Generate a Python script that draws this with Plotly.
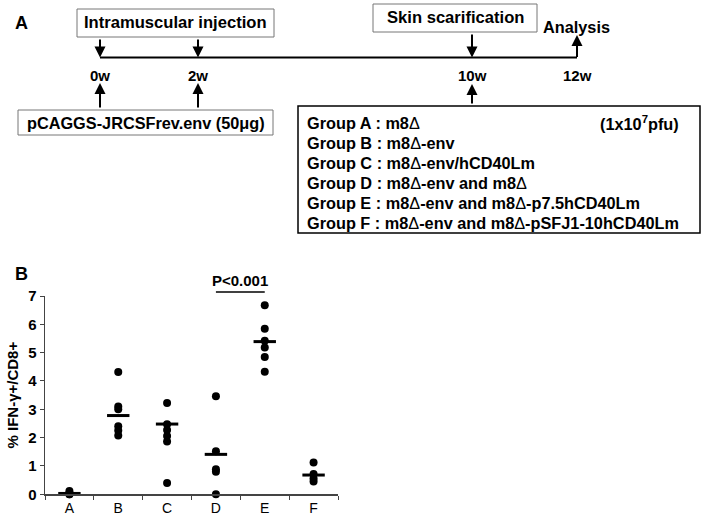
import plotly.graph_objects as go

W, H = 705, 526

# ---------------- data (panel B) ----------------
categories = ["A", "B", "C", "D", "E", "F"]
values_A = [0.12, 0.05, 0.02, 0.0, 0.0]
values_B = [4.32, 3.10, 3.00, 2.40, 2.25, 2.08]
values_C = [3.22, 2.47, 2.27, 2.06, 1.86, 0.40]
values_D = [3.46, 1.52, 0.88, 0.80, 0.0]
values_E = [6.67, 5.84, 5.42, 5.18, 4.85, 4.33]
values_F = [1.12, 0.72, 0.56, 0.45]
group_means = [0.03, 2.78, 2.48, 1.41, 5.39, 0.68]
y_ticks = [0, 1, 2, 3, 4, 5, 6, 7]
p_label = "P<0.001"
p_pair = ["D", "E"]
p_level = 7.14

# ---------------- text (panel A) ----------------
DELTA = "<span style='font-weight:normal'>Δ</span>"
timeline_labels = ["0w", "2w", "10w", "12w"]
group_names = ["Group A", "Group B", "Group C", "Group D", "Group E", "Group F"]
group_vectors = ["m8Δ", "m8Δ-env", "m8Δ-env/hCD40Lm", "m8Δ-env and m8Δ",
                 "m8Δ-env and m8Δ-p7.5hCD40Lm", "m8Δ-env and m8Δ-pSFJ1-10hCD40Lm"]
dose_label = "(1x10<sup>7</sup>pfu)"
im_label = "Intramuscular injection"
skin_label = "Skin scarification"
analysis_label = "Analysis"
plasmid_label = "pCAGGS-JRCSFrev.env (50μg)"

FONT = "Liberation Sans, Arial, sans-serif"


def px(x):
    return x / W


def py(y):
    return 1 - y / H


fig = go.Figure()

series = [values_A, values_B, values_C, values_D, values_E, values_F]
for cat, vals in zip(categories, series):
    fig.add_trace(go.Scatter(
        x=[cat] * len(vals), y=vals, mode="markers",
        marker=dict(size=8, color="black"),
        hoverinfo="skip", showlegend=False, cliponaxis=False))

fig.add_trace(go.Scatter(
    x=categories, y=group_means, mode="markers",
    marker=dict(symbol="line-ew", size=16, color="black",
                line=dict(width=3, color="black")),
    hoverinfo="skip", showlegend=False, cliponaxis=False))

shapes = []
annotations = []

# ---------- panel A layout ----------
tl_x = [100, 198, 472, 577]
tl_y = 57.5

shapes.append(dict(type="line", xref="paper", yref="paper",
                   x0=px(tl_x[0]), x1=px(tl_x[3]), y0=py(tl_y), y1=py(tl_y),
                   line=dict(color="black", width=2.2)))


def box(x0, x1, y0, y1, color="#777777", width=1):
    shapes.append(dict(type="rect", xref="paper", yref="paper",
                       x0=px(x0), x1=px(x1), y0=py(y1), y1=py(y0),
                       line=dict(color=color, width=width), fillcolor="rgba(0,0,0,0)"))


box(77, 274, 9, 37)
box(373, 537, 4, 32)
box(18, 273, 110, 135)
box(298, 700, 106, 233, color="black", width=1.5)


def text(x, y, s, size=16, xanchor="center", bold=True):
    annotations.append(dict(xref="paper", yref="paper", x=px(x), y=py(y),
                            text=s, showarrow=False, xanchor=xanchor, yanchor="middle",
                            font=dict(family=FONT, size=size, color="black",
                                      weight="bold" if bold else "normal")))


def arrow(x, y_head, y_tail):
    annotations.append(dict(xref="paper", yref="paper", x=px(x), y=py(y_head),
                            axref="pixel", ayref="pixel", ax=0, ay=y_tail - y_head,
                            text="", showarrow=True, arrowhead=2, arrowsize=1.1,
                            arrowwidth=2, arrowcolor="black", standoff=0))


text(13, 23, "A", size=18, xanchor="left")
text(175.5, 23, im_label, size=16.6)
text(455, 18, skin_label, size=16.6)
text(576, 27, analysis_label, size=16.3)
text(145.5, 122.5, plasmid_label, size=16.3)

arrow(tl_x[0], tl_y, 38)
arrow(tl_x[1], tl_y, 38)
arrow(tl_x[2], tl_y, 33)
arrow(tl_x[3], 35, tl_y + 1)

for xx, lab in zip(tl_x, timeline_labels):
    text(xx, 75, lab, size=15)

arrow(tl_x[0], 83, 109)
arrow(tl_x[1], 83, 109)
arrow(tl_x[2], 84, 105)

for i, (g, v) in enumerate(zip(group_names, group_vectors)):
    text(305, 122.5 + 20 * i, f"{g} : {v}".replace("Δ", DELTA), size=16.3, xanchor="left")
text(681, 122.5, dose_label, size=16.3, xanchor="right")

# ---------- panel B ----------
y0_pix, y7_pix = 494.3, 296.0
unit_pix = (y0_pix - y7_pix) / 7.0


def y_to_pix(v):
    return y0_pix - v * unit_pix


text(13, 274, "B", size=18, xanchor="left")

bar_pix = y_to_pix(p_level)
shapes.append(dict(type="line", xref="x", yref="paper",
                   x0=categories.index(p_pair[0]), x1=categories.index(p_pair[1]),
                   y0=py(bar_pix), y1=py(bar_pix),
                   line=dict(color="black", width=1.5)))
annotations.append(dict(x=(categories.index(p_pair[0]) + categories.index(p_pair[1])) / 2,
                        y=py(bar_pix), xref="x", yref="paper", text=p_label,
                        showarrow=False, yanchor="bottom", yshift=1,
                        font=dict(family=FONT, size=15, color="black", weight="bold")))

fig.update_layout(
    template="none",
    width=W, height=H, autosize=False,
    margin=dict(l=0, r=0, t=0, b=0, pad=0),
    paper_bgcolor="white", plot_bgcolor="white",
    showlegend=False,
    shapes=shapes, annotations=annotations,
    xaxis=dict(domain=[px(45), px(338)], type="category", automargin=False,
               categoryorder="array", categoryarray=categories,
               range=[-0.5, 5.5], tickson="boundaries", ticks="outside",
               ticklen=4, tickwidth=1, tickcolor="#444",
               showline=True, linecolor="#444", linewidth=1.5,
               showgrid=False, zeroline=False,
               tickfont=dict(family=FONT, size=14, color="black")),
    yaxis=dict(domain=[py(y0_pix), py(y7_pix)], range=[0, 7], automargin=False,
               tickvals=y_ticks, ticks="outside", ticklen=4, tickwidth=1,
               tickcolor="#444", showline=True, linecolor="#444", linewidth=1.5,
               showgrid=False, zeroline=False,
               tickfont=dict(family=FONT, size=15, color="black", weight="bold"),
               title=dict(text="% IFN-γ+/CD8+", standoff=6,
                          font=dict(family=FONT, size=15, color="black", weight="bold"))),
)

fig.write_html("out.html", config={"displayModeBar": False, "staticPlot": True},
               post_script="document.body.style.margin='0px';")
